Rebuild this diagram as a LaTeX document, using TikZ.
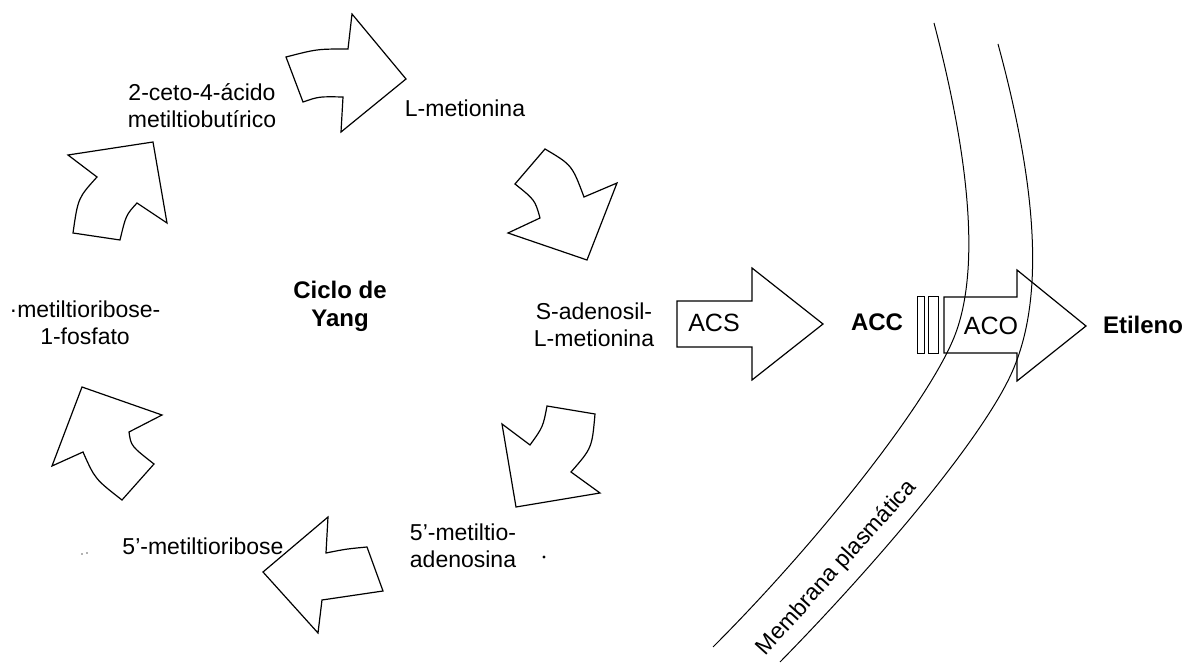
\documentclass[tikz,border=0pt]{standalone}
\usepackage{fontspec}
\setmainfont{Liberation Sans}
\begin{document}
\begin{tikzpicture}[x=1pt, y=-1pt,
txt/.style={inner sep=0pt, align=center, font=\fontsize{23}{27}\selectfont},
boldtxt/.style={txt, font=\fontsize{24}{28}\selectfont\bfseries},
enzyme/.style={inner sep=0pt, font=\fontsize{25}{29}\selectfont},
blockarrow/.style={draw=black, line width=1.2pt, line join=miter},
membrane/.style={draw=black, line width=1pt}
]
\useasboundingbox (0,0) rectangle (1187,663);

%Nodes
\node[txt]      (ceto)   at (202,106)  {2-ceto-4-ácido\\metiltiobutírico};
\node[txt]      (met)    at (465,108)  {L-metionina};
\node[txt]      (mtrp)   at (85,323)   {·metiltioribose-\\1-fosfato};
\node[boldtxt]  (yang)   at (340,306)  {Ciclo de\\Yang};
\node[txt]      (sam)    at (594,325)  {S-adenosil-\\L-metionina};
\node[txt]      (mtr)    at (203,546)  {5’-metiltioribose};
\node[txt]      (mta)    at (463,546)  {5’-metiltio-\\adenosina};
\node[enzyme]   (acs)    at (714,323)  {ACS};
\node[boldtxt]  (acc)    at (877,322)  {ACC};
\node[enzyme]   (aco)    at (991,326)  {ACO};
\node[boldtxt]  (eti)    at (1143,325) {Etileno};
\node[txt, rotate=48] (memb) at (837,568) {Membrana plasmática};

%Cycle arrows
\draw[blockarrow] (286,57) .. controls (317,49) .. (348,49) -- (352,14) -- (406,79)
  -- (341,132) -- (343,97) .. controls (319,96.5) .. (303,102) -- cycle;
\draw[blockarrow] (545,149) -- (515,184) .. controls (535,200) .. (540,218) -- (508,233)
  -- (587,260) -- (617,183) -- (584,197) .. controls (572,165) .. cycle;
\draw[blockarrow] (547,406) -- (595,414) .. controls (592,448) .. (571,472) -- (600,493)
  -- (516,507) -- (502,424) -- (530,445) .. controls (543,427) .. cycle;
\draw[blockarrow] (328,517) -- (263,572) -- (318,633) -- (322,600) .. controls (353,595) .. (383,591)
  -- (367,547) .. controls (346,549) .. (326,553) -- cycle;
\draw[blockarrow] (82,387) -- (162,415) -- (129,432) .. controls (131,446) .. (154,464)
  -- (122,500) .. controls (95,479) .. (83,452) -- (52,466) -- cycle;
\draw[blockarrow] (73,233) -- (120,240) .. controls (126,215) .. (137,203) -- (167,223)
  -- (153,142) -- (68,155) -- (97,177) .. controls (78,198) .. cycle;

%Enzyme arrows
\draw[blockarrow] (677,301) -- (752,301) -- (752,268) -- (823,324) -- (752,380)
  -- (752,347) -- (677,347) -- cycle;
\draw[blockarrow, line width=1pt] (917,297) rectangle (924,353);
\draw[blockarrow, line width=1pt] (928,297) rectangle (938,353);
\draw[blockarrow] (944,297) -- (1017,297) -- (1017,270) -- (1086,326) -- (1017,381)
  -- (1017,353) -- (944,353) -- cycle;

%Membrane
\draw[membrane] (934,23) .. controls (970,160) and (980,270) .. (955,335)
  .. controls (930,400) and (820,540) .. (713,647);
\draw[membrane] (998,44) .. controls (1035,180) and (1045,290) .. (1015,365)
  .. controls (990,430) and (880,560) .. (780,662);

%Specks
\fill (544,557) circle (1.6);
\fill[black!60] (82,554) circle (0.8) (87,553) circle (0.8);
\end{tikzpicture}
\end{document}
